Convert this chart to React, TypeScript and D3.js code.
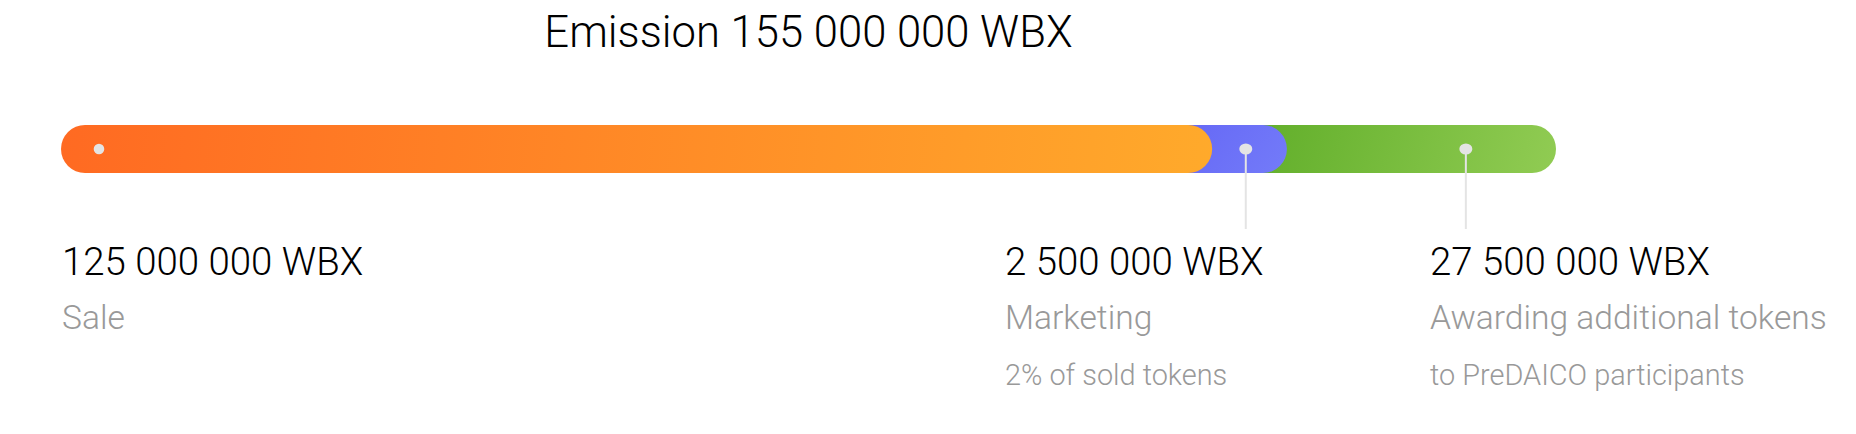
import React from "react";
import * as d3 from "d3";

const title = "Emission 155 000 000 WBX";
const categories = ["Sale", "Marketing", "Awarding additional tokens"];
const amounts = ["125 000 000 WBX", "2 500 000 WBX", "27 500 000 WBX"];
const notes = ["", "2% of sold tokens", "to PreDAICO participants"];
// visible share of the bar for each segment (%)
const barShares = [77, 5, 18];
const markerPos = [0.033, 0.45, 0.665];
const hasLeader = [false, true, true];
const gradStops = [
  ["#FF6A22", "#FFAA2B"],
  ["#6466F5", "#7780FA"],
  ["#5FAD28", "#93CD55"],
];

const W = 1856;
const H = 434;
const BAR_LEFT = 61;
const BAR_RIGHT = 1556;
const BAR_TOP = 125;
const BAR_H = 48;
const labelX = [62, 1005, 1430];

export default function App() {
  const total = d3.sum(barShares);
  const x = d3.scaleLinear().domain([0, total]).range([BAR_LEFT, BAR_RIGHT]);
  const cum = d3.cumsum(barShares);
  const r = BAR_H / 2;
  const segs = barShares.map((v, i) => {
    const start = i === 0 ? 0 : cum[i - 1];
    const end = cum[i];
    const x0 = i === 0 ? x(start) : x(start) - 2 * r;
    return { start, end, i, x0, x1: x(end) };
  });
  const cy = BAR_TOP + r;
  const font = "Roboto, 'Noto Sans', sans-serif";

  return (
    <svg
      width={W}
      height={H}
      style={{ position: "absolute", left: 0, top: 0, display: "block", background: "#fff" }}
    >
      <defs>
        {segs.map((s) => (
          <linearGradient
            key={s.i}
            id={`g${s.i}`}
            gradientUnits="userSpaceOnUse"
            x1={s.x0}
            y1={BAR_TOP}
            x2={s.x1}
            y2={BAR_TOP + BAR_H * 2}
          >
            <stop offset="0%" stopColor={gradStops[s.i][0]} />
            <stop offset="100%" stopColor={gradStops[s.i][1]} />
          </linearGradient>
        ))}
      </defs>
      <text
        x={(BAR_LEFT + BAR_RIGHT) / 2}
        y={47}
        textAnchor="middle"
        fontFamily={font}
        fontWeight={300}
        fontSize={43.6}
        fill="#000"
      >
        {title}
      </text>
      {/* draw from last to first so earlier segments overlap later ones */}
      {[...segs].reverse().map((s) => (
        <rect
          key={s.i}
          x={s.x0}
          y={BAR_TOP}
          width={s.x1 - s.x0}
          height={BAR_H}
          rx={r}
          ry={r}
          fill={`url(#g${s.i})`}
        />
      ))}
      {segs.map((s) => {
        const mx = x(s.start) + (x(s.end) - x(s.start)) * markerPos[s.i];
        return (
          <g key={s.i}>
            {hasLeader[s.i] && (
              <line x1={mx} x2={mx} y1={cy} y2={229} stroke="#e4e4e4" strokeWidth={2} />
            )}
            {hasLeader[s.i] ? (
              <ellipse cx={mx} cy={cy} rx={6.5} ry={5.5} fill="#e4e4e4" />
            ) : (
              <circle cx={mx} cy={cy} r={5.3} fill="#e4e4e4" />
            )}
          </g>
        );
      })}
      {categories.map((c, i) => (
        <g key={c} fontFamily={font} fontWeight={300}>
          <text x={labelX[i]} y={275} fontSize={38.4} fill="#000">
            {amounts[i]}
          </text>
          <text x={labelX[i]} y={329} fontSize={33.6} fill="#999">
            {c}
          </text>
          {notes[i] && (
            <text x={labelX[i]} y={385} fontSize={28.9} fill="#999">
              {notes[i]}
            </text>
          )}
        </g>
      ))}
    </svg>
  );
}
